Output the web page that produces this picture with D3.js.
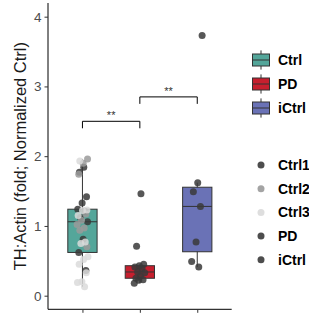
<!DOCTYPE html>
<html>
<head>
<meta charset="utf-8">
<script src="https://cdn.jsdelivr.net/npm/d3@7"></script>
<style>
  body { margin: 0; background: #fff; }
  text { font-family: "Liberation Sans", Arial, sans-serif; }
</style>
</head>
<body>
<script>
const groups = ["Ctrl", "PD", "iCtrl"];
const groupColors = ["#54a69a", "#c61f2e", "#6a72b6"];

// Ctrl group is made of three control lines
const ctrl1 = [1.84, 1.77, 1.42, 1.33, 1.24, 1.21, 1.12, 1.06, 0.81, 0.62, 0.36];
const ctrl2 = [1.96, 1.90, 1.74, 1.17, 1.08, 1.02, 0.97, 0.94, 0.70];
const ctrl3 = [1.93, 1.23, 1.22, 1.15, 0.77, 0.75, 0.56, 0.52, 0.45, 0.33, 0.20, 0.19, 0.13];
const pd    = [1.46, 0.71, 0.45, 0.43, 0.41, 0.39, 0.34, 0.33, 0.28, 0.25, 0.23, 0.22, 0.18];
const ictrl = [3.73, 1.62, 1.49, 1.28, 0.77, 0.49, 0.41];

const lines = ["Ctrl1", "Ctrl2", "Ctrl3", "PD", "iCtrl"];
const lineColors = ["#3a3a3a", "#9a9a9a", "#dadada", "#3a3a3a", "#3a3a3a"];

const yTicks = [0, 1, 2, 3, 4];
const brackets = [
  {from: "Ctrl", to: "PD", y: 2.5, label: "**"},
  {from: "PD", to: "iCtrl", y: 2.85, label: "**"}
];

const W = 309, H = 316;
const svg = d3.select("body").append("svg").attr("width", W).attr("height", H);

const x = d3.scalePoint().domain(groups).range([48, 231.7]).padding(0.6);
const y = d3.scaleLinear().domain([-0.195, 4.196]).range([309.3, 3]);
const bw = x.step() * 0.51;

// box stats (same quantile rule as R)
function stats(v) {
  const s = v.slice().sort(d3.ascending);
  const q1 = d3.quantile(s, 0.25), med = d3.quantile(s, 0.5), q3 = d3.quantile(s, 0.75);
  const iqr = q3 - q1;
  const lo = d3.min(s.filter(d => d >= q1 - 1.5 * iqr));
  const hi = d3.max(s.filter(d => d <= q3 + 1.5 * iqr));
  return {q1, med, q3, lo, hi};
}

const groupVals = [ctrl1.concat(ctrl2, ctrl3), pd, ictrl];
const boxes = groups.map((g, i) => Object.assign({g, color: groupColors[i]}, stats(groupVals[i])));

const gb = svg.append("g").selectAll("g").data(boxes).enter().append("g");
gb.append("line")
  .attr("x1", d => x(d.g)).attr("x2", d => x(d.g))
  .attr("y1", d => y(d.lo)).attr("y2", d => y(d.hi))
  .attr("stroke", "#333").attr("stroke-width", 1);
gb.append("rect")
  .attr("x", d => x(d.g) - bw / 2).attr("width", bw)
  .attr("y", d => y(d.q3)).attr("height", d => y(d.q1) - y(d.q3))
  .attr("fill", d => d.color).attr("stroke", "#333").attr("stroke-width", 1);
gb.append("line")
  .attr("x1", d => x(d.g) - bw / 2).attr("x2", d => x(d.g) + bw / 2)
  .attr("y1", d => y(d.med)).attr("y2", d => y(d.med))
  .attr("stroke", "#333").attr("stroke-width", 1);

// jittered points, deterministic spread
const jit = i => (((i * 0.6180339887) % 1) - 0.5) * 0.2;
const pts = [];
[[ctrl1, 0, "Ctrl"], [ctrl2, 1, "Ctrl"], [ctrl3, 2, "Ctrl"], [pd, 3, "PD"], [ictrl, 4, "iCtrl"]]
  .forEach(([vals, li, g]) => vals.forEach((v, i) => pts.push({v, g, c: lineColors[li], k: li * 7 + i})));

svg.append("g").selectAll("circle").data(pts).enter().append("circle")
  .attr("cx", d => x(d.g) + jit(d.k + 1) * x.step())
  .attr("cy", d => y(d.v))
  .attr("r", 3.5)
  .attr("fill", d => d.c)
  .attr("fill-opacity", 0.85);

// significance brackets
const sb = svg.append("g").selectAll("g").data(brackets).enter().append("g");
sb.append("path")
  .attr("d", d => `M${x(d.from)},${y(d.y - 0.1)}V${y(d.y)}H${x(d.to)}V${y(d.y - 0.1)}`)
  .attr("fill", "none").attr("stroke", "#000").attr("stroke-width", 1);
sb.append("text")
  .attr("x", d => (x(d.from) + x(d.to)) / 2).attr("y", d => y(d.y) - 2)
  .attr("text-anchor", "middle").attr("font-size", 11).attr("fill", "#333")
  .text(d => d.label);

// axes
const yAxis = svg.append("g").attr("transform", "translate(48,0)")
  .call(d3.axisLeft(y).tickValues(yTicks).tickFormat(d3.format("d")).tickSize(3.5).tickPadding(3));
yAxis.select(".domain").attr("d", `M0,${y.range()[0]}V${y.range()[1]}`).attr("stroke", "#000");
yAxis.selectAll(".tick line").attr("stroke", "#333");
yAxis.selectAll(".tick text").attr("font-size", 13.5).attr("fill", "#4d4d4d")
  .attr("font-family", "Liberation Sans, Arial, sans-serif");

const xAxis = svg.append("g").attr("transform", `translate(0,${y.range()[0]})`)
  .call(d3.axisBottom(x).tickSize(3.5).tickFormat(""));
xAxis.select(".domain").attr("d", `M48,0H231.7`).attr("stroke", "#000");
xAxis.selectAll(".tick line").attr("stroke", "#333");

svg.append("text")
  .attr("transform", `translate(20,${(y.range()[0] + y.range()[1]) / 2}) rotate(-90)`)
  .attr("text-anchor", "middle").attr("dy", "0.35em")
  .attr("font-size", 16.5).attr("fill", "#1a1a1a")
  .text("TH:Actin (fold; Normalized Ctrl)");

// legend: boxes
const lg1 = svg.append("g").selectAll("g").data(groups).enter().append("g")
  .attr("transform", (d, i) => `translate(261,${60 + i * 24})`);
lg1.append("line").attr("y1", -9.6).attr("y2", 9.6).attr("stroke", "#333");
lg1.append("rect").attr("x", -8.5).attr("y", -6).attr("width", 17).attr("height", 12)
  .attr("fill", (d, i) => groupColors[i]).attr("stroke", "#333");
lg1.append("line").attr("x1", -8.5).attr("x2", 8.5).attr("stroke", "#333");
lg1.append("text").attr("x", 17).attr("dy", "0.36em")
  .attr("font-size", 14).attr("font-weight", "bold").text(d => d);

// legend: points
const lg2 = svg.append("g").selectAll("g").data(lines).enter().append("g")
  .attr("transform", (d, i) => `translate(261,${165 + i * 23.7})`);
lg2.append("circle").attr("r", 3.5).attr("fill", (d, i) => lineColors[i]).attr("fill-opacity", 0.9);
lg2.append("text").attr("x", 17).attr("dy", "0.36em")
  .attr("font-size", 14).attr("font-weight", "bold").text(d => d);
</script>
</body>
</html>
